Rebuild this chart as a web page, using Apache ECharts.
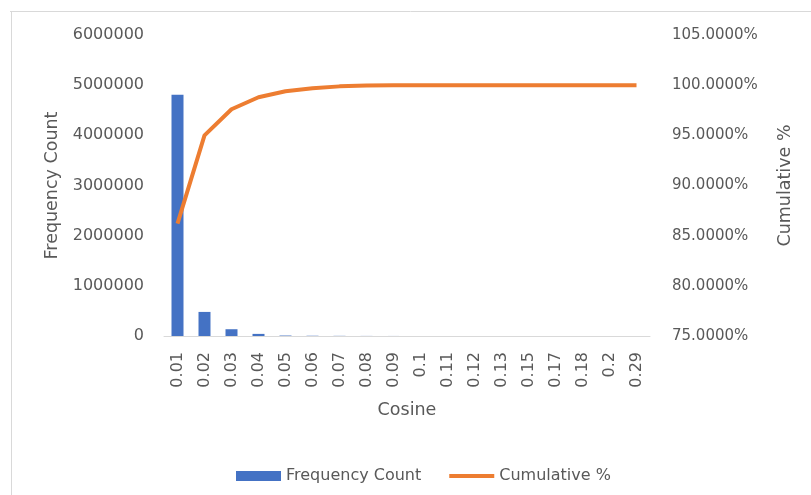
<!DOCTYPE html>
<html>
<head>
<meta charset="utf-8">
<script src="https://cdn.jsdelivr.net/npm/echarts@6/dist/echarts.min.js"></script>
<style>
html, body { margin: 0; padding: 0; background: #fff; }
#main { width: 811px; height: 495px; }
</style>
</head>
<body>
<div id="main"></div>
<script>
// categories + values
var cosine = ['0.01', '0.02', '0.03', '0.04', '0.05', '0.06', '0.07', '0.08', '0.09', '0.1',
    '0.11', '0.12', '0.13', '0.15', '0.17', '0.18', '0.2', '0.29'];
var freqCount = [4810000, 480000, 135000, 42000, 9000, 5000, 3000, 1500, 800, 400,
    200, 100, 60, 30, 20, 10, 5, 2];
var cumulative = [86.2, 95.0, 97.6, 98.8, 99.4, 99.7, 99.88, 99.96, 99.99, 100,
    100, 100, 100, 100, 100, 100, 100, 100];

var grey = '#595959';
var font = 'DejaVu Sans';

var chart = echarts.init(document.getElementById('main'));
chart.setOption({
    animation: false,
    textStyle: { fontFamily: font },
    graphic: [
        { type: 'line', shape: { x1: 10, y1: 11.5, x2: 811, y2: 11.5 }, style: { stroke: '#d9d9d9', lineWidth: 1 } },
        { type: 'line', shape: { x1: 11.5, y1: 11, x2: 11.5, y2: 495 }, style: { stroke: '#d9d9d9', lineWidth: 1 } }
    ],
    grid: { left: 164, right: 161, top: 35, bottom: 159 },
    legend: {
        left: 231,
        top: 463,
        itemWidth: 45,
        itemHeight: 10,
        itemGap: 28,
        textStyle: { color: grey, fontSize: 16, fontFamily: font },
        data: [
            { name: 'Frequency Count', icon: 'rect' },
            { name: 'Cumulative %', icon: 'path://M0,0 L45,0 L45,4 L0,4 Z', itemStyle: { color: '#ED7D31' } }
        ]
    },
    xAxis: {
        type: 'category',
        data: cosine,
        name: 'Cosine',
        nameLocation: 'middle',
        nameGap: 65,
        nameTextStyle: { color: grey, fontSize: 17.5 },
        axisLine: { lineStyle: { color: '#d9d9d9', width: 1 } },
        axisTick: { show: false },
        axisLabel: { rotate: 90, color: grey, fontSize: 16, margin: 16, interval: 0 }
    },
    yAxis: [
        {
            type: 'value',
            min: 0,
            max: 6000000,
            interval: 1000000,
            name: 'Frequency Count',
            nameLocation: 'middle',
            nameRotate: 90,
            nameGap: 102,
            nameTextStyle: { color: grey, fontSize: 17.5 },
            axisLine: { show: false },
            axisTick: { show: false },
            splitLine: { show: false },
            axisLabel: {
                color: grey, fontSize: 16, margin: 20,
                formatter: function (v) { return String(v); }
            }
        },
        {
            type: 'value',
            min: 75,
            max: 105,
            interval: 5,
            name: 'Cumulative %',
            nameLocation: 'middle',
            nameRotate: 90,
            nameGap: 126,
            nameTextStyle: { color: grey, fontSize: 17.5 },
            axisLine: { show: false },
            axisTick: { show: false },
            splitLine: { show: false },
            axisLabel: {
                color: grey, fontSize: 15, margin: 22,
                formatter: function (v) { return v.toFixed(4) + '%'; }
            }
        }
    ],
    series: [
        {
            name: 'Frequency Count',
            type: 'bar',
            data: freqCount,
            barWidth: 12,
            itemStyle: { color: '#4472C4' }
        },
        {
            name: 'Cumulative %',
            type: 'line',
            yAxisIndex: 1,
            data: cumulative,
            symbol: 'none',
            lineStyle: { color: '#ED7D31', width: 4 },
            itemStyle: { color: '#ED7D31' }
        }
    ]
});
</script>
</body>
</html>
